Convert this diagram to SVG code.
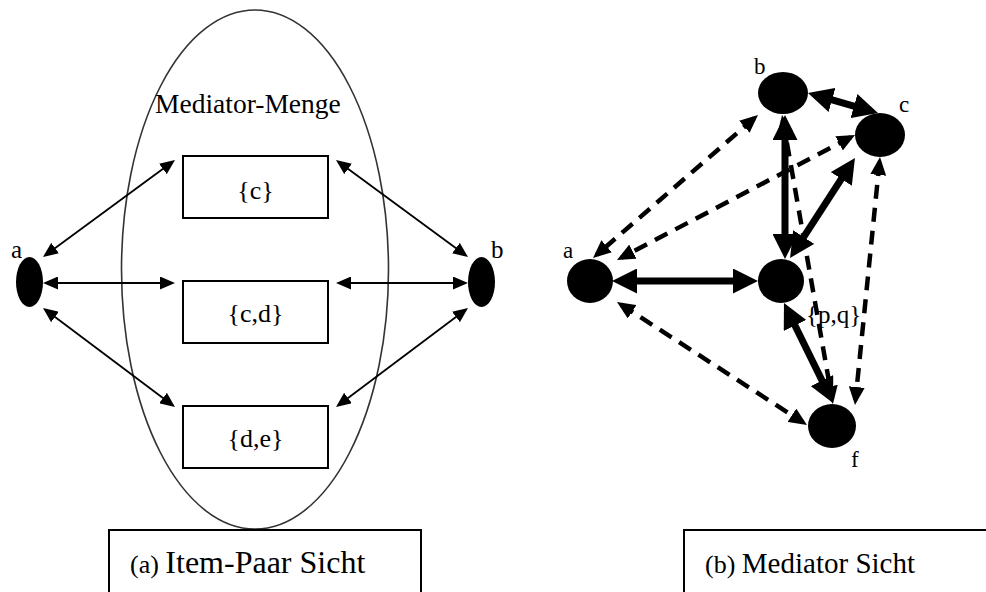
<svg xmlns="http://www.w3.org/2000/svg" width="986" height="592" viewBox="0 0 986 592">
  <style>
    text { font-family: "Liberation Serif", "Times New Roman", serif; fill: #000; }
    .set { fill: #fff; stroke: #000; stroke-width: 2; }
    .caption { fill: #fff; stroke: #000; stroke-width: 2; }
    .node { fill: #000; }
    .thin { stroke: #000; stroke-width: 1.8; fill: none; marker-start: url(#headThin); marker-end: url(#headThin); }
    .thick { stroke: #000; stroke-width: 7; fill: none; marker-start: url(#headThick); marker-end: url(#headThick); }
    .dash { stroke: #000; stroke-width: 4.5; fill: none; stroke-dasharray: 14 9; marker-start: url(#headDash); marker-end: url(#headDash); }
  </style>
  <defs>
    <marker id="headThin" viewBox="0 0 15 13" markerUnits="userSpaceOnUse" markerWidth="15" markerHeight="13" refX="12" refY="6.5" orient="auto-start-reverse">
      <path d="M0,0 L15,6.5 L0,13 z" fill="#000"/>
    </marker>
    <marker id="headThick" viewBox="0 0 25 25" markerUnits="userSpaceOnUse" markerWidth="25" markerHeight="25" refX="17" refY="12.5" orient="auto-start-reverse">
      <path d="M0,0 L25,12.5 L0,25 z" fill="#000"/>
    </marker>
    <marker id="headDash" viewBox="0 0 18 16" markerUnits="userSpaceOnUse" markerWidth="18" markerHeight="16" refX="13" refY="8" orient="auto-start-reverse">
      <path d="M0,0 L18,8 L0,16 z" fill="#000"/>
    </marker>
  </defs>

  <rect width="986" height="592" fill="#fff"/>

  <!-- (a) item-pair view -->
  <g id="mediator-set">
    <ellipse cx="255" cy="269.5" rx="133.5" ry="259.5" fill="none" stroke="#333" stroke-width="1.6"/>
    <text x="155" y="113" font-size="27.5">Mediator-Menge</text>
  </g>

  <g id="set-c">
    <rect class="set" x="183" y="156" width="145" height="62"/>
    <text x="255.5" y="199" font-size="26" text-anchor="middle">{c}</text>
  </g>
  <g id="set-cd">
    <rect class="set" x="183" y="281" width="145" height="62"/>
    <text x="255.5" y="322" font-size="26" text-anchor="middle">{c,d}</text>
  </g>
  <g id="set-de">
    <rect class="set" x="183" y="406" width="145" height="62"/>
    <text x="255.5" y="447" font-size="26" text-anchor="middle">{d,e}</text>
  </g>

  <g id="item-a-left">
    <ellipse class="node" cx="29.5" cy="282" rx="13.5" ry="25"/>
    <text x="11" y="258" font-size="25">a</text>
  </g>
  <g id="item-b-left">
    <ellipse class="node" cx="481.5" cy="282" rx="13.5" ry="25"/>
    <text x="491" y="258" font-size="25">b</text>
  </g>

  <g id="connectors-left">
    <line class="thin" x1="45.4" y1="255.2" x2="172.6" y2="161.8"/>
    <line class="thin" x1="46" y1="283" x2="172" y2="283"/>
    <line class="thin" x1="45.4" y1="309.8" x2="172.6" y2="405.2"/>
    <line class="thin" x1="338.4" y1="161.8" x2="465.6" y2="255.2"/>
    <line class="thin" x1="339" y1="283" x2="465" y2="283"/>
    <line class="thin" x1="338.4" y1="405.2" x2="465.6" y2="309.8"/>
  </g>

  <g id="caption-a">
    <rect class="caption" x="109" y="530" width="312" height="70"/>
    <text x="130" y="573"><tspan font-size="26">(a) </tspan><tspan font-size="32">Item-Paar Sicht</tspan></text>
  </g>

  <!-- (b) mediator view -->
  <g id="connectors-right">
    <line class="dash" x1="754.2" y1="118.3" x2="596.8" y2="254.7"/>
    <line class="dash" x1="850.6" y1="137.3" x2="621.4" y2="257.7"/>
    <line class="dash" x1="621.2" y1="304.7" x2="802.8" y2="422.3"/>
    <line class="dash" x1="879.5" y1="162" x2="855.5" y2="400"/>
    <line class="dash" x1="782.9" y1="119.9" x2="832.1" y2="399.1"/>
    <line class="thick" x1="620" y1="281" x2="750" y2="281"/>
    <line class="thick" x1="785" y1="123" x2="785" y2="251"/>
    <line class="thick" x1="794.4" y1="251.3" x2="850.6" y2="164.7"/>
    <line class="thick" x1="815.7" y1="95.2" x2="870.3" y2="110.8"/>
    <line class="thick" x1="787.5" y1="310.2" x2="829.5" y2="395.8"/>
  </g>

  <g id="item-b">
    <ellipse class="node" cx="783" cy="93" rx="25" ry="21"/>
    <text x="754" y="74" font-size="23">b</text>
  </g>
  <g id="item-c">
    <ellipse class="node" cx="880" cy="135" rx="25" ry="22"/>
    <text x="899" y="112" font-size="23">c</text>
  </g>
  <g id="item-a">
    <ellipse class="node" cx="590" cy="281" rx="23" ry="22"/>
    <text x="563" y="258" font-size="23">a</text>
  </g>
  <g id="mediator-pq">
    <ellipse class="node" cx="781" cy="281" rx="23" ry="22"/>
    <text x="806" y="323" font-size="25">{p,q}</text>
  </g>
  <g id="item-f">
    <ellipse class="node" cx="832" cy="426" rx="24" ry="22"/>
    <text x="851" y="467" font-size="23">f</text>
  </g>

  <g id="caption-b">
    <rect class="caption" x="684" y="530" width="320" height="70"/>
    <text x="705" y="573"><tspan font-size="26">(b) </tspan><tspan font-size="29">Mediator Sicht</tspan></text>
  </g>
</svg>
